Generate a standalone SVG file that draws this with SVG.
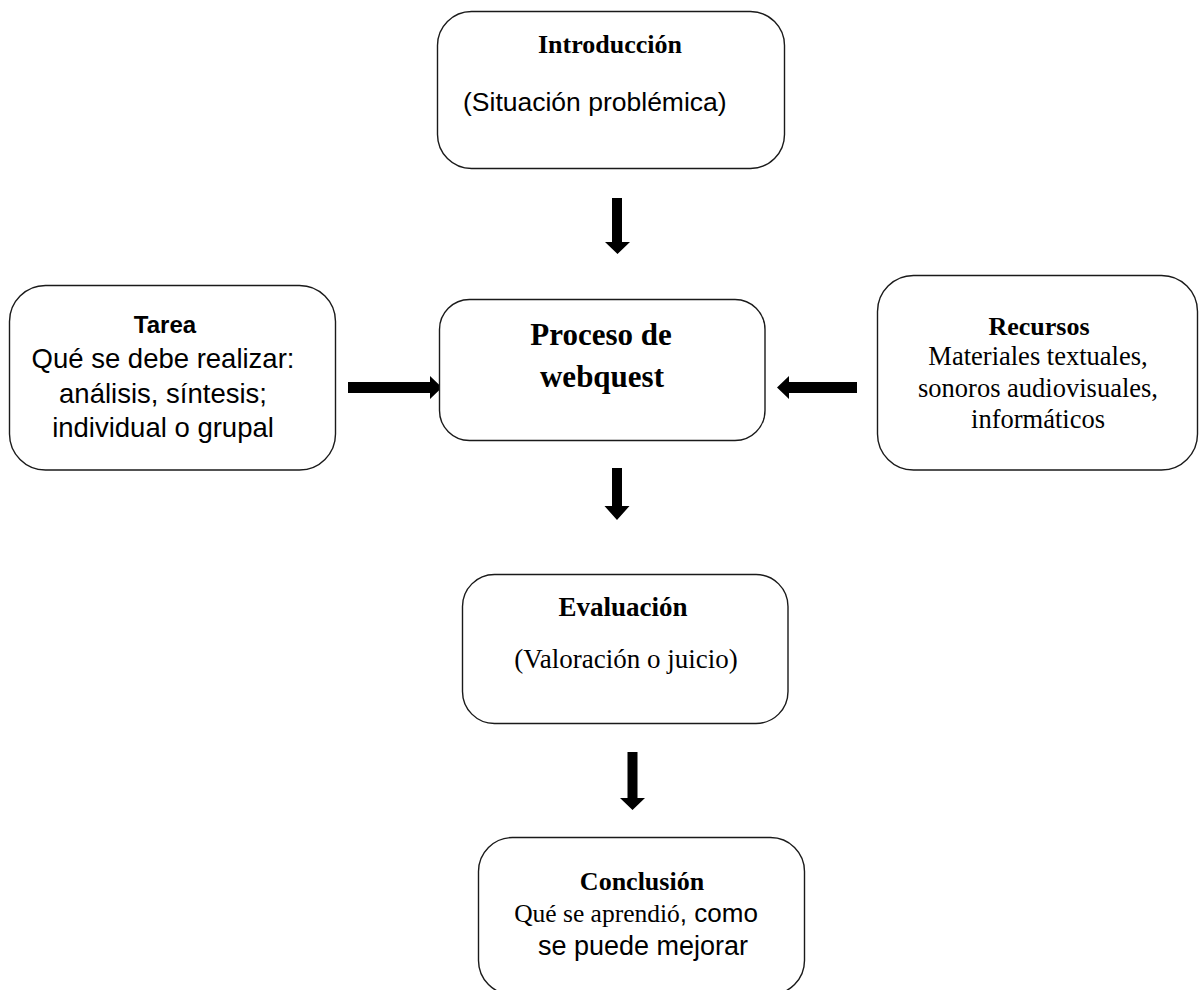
<svg xmlns="http://www.w3.org/2000/svg" width="1200" height="990" viewBox="0 0 1200 990">
<style>
.box{fill:#fff;stroke:#1a1a1a;stroke-width:1.4}
.arr{fill:#000}
.tb{font-family:"Liberation Serif","Times New Roman",serif;font-weight:bold;font-size:26px;fill:#000;text-anchor:middle}
.tr{font-family:"Liberation Serif","Times New Roman",serif;font-size:26.5px;fill:#000;text-anchor:middle}
.sr{font-family:"Liberation Sans",Arial,sans-serif;font-size:27px;fill:#000;text-anchor:middle}
.sb{font-family:"Liberation Sans",Arial,sans-serif;font-weight:bold;font-size:24px;fill:#000;text-anchor:middle}
</style>
<rect width="1200" height="990" fill="#fff"/>
<g id="connectors">
<polygon class="arr" points="612,198 622,198 622,242 630,242 617.5,254 605,242 612,242"/>
<polygon class="arr" points="612,468 622,468 622,506 629.5,506 617,520 604.5,506 612,506"/>
<polygon class="arr" points="627.5,752 637.5,752 637.5,798 645,798 632.5,810 620,798 627.5,798"/>
<polygon class="arr" points="348,382 430,382 430,376 442,387.5 430,399 430,393 348,393"/>
<polygon class="arr" points="857,382 789,382 789,376 777,387.5 789,399 789,393 857,393"/>
</g>
<g id="introduccion">
<rect class="box" x="437.5" y="11.5" width="347" height="157" rx="34"/>
<text class="tb" x="610" y="53">Introducción</text>
<text class="sr" x="463" y="111" style="text-anchor:start;font-size:26.5px">(Situación problémica)</text>
</g>
<g id="tarea">
<rect class="box" x="9.5" y="285.5" width="326" height="184.5" rx="36"/>
<text class="sb" x="165" y="333">Tarea</text>
<text class="sr" x="163" y="368" style="font-size:27.5px">Qué se debe realizar:</text>
<text class="sr" x="163" y="403" style="font-size:27.5px">análisis, síntesis;</text>
<text class="sr" x="163" y="437" style="font-size:27.5px">individual o grupal</text>
</g>
<g id="proceso">
<rect class="box" x="439.5" y="299.5" width="325.5" height="141" rx="30"/>
<text class="tb" x="601" y="345" style="font-size:31px">Proceso de</text>
<text class="tb" x="602" y="387" style="font-size:31px">webquest</text>
</g>
<g id="recursos">
<rect class="box" x="877.5" y="275.5" width="320" height="194.5" rx="36"/>
<text class="tb" x="1039" y="335">Recursos</text>
<text class="tr" x="1038" y="365">Materiales textuales,</text>
<text class="tr" x="1038" y="397">sonoros audiovisuales,</text>
<text class="tr" x="1038" y="428">informáticos</text>
</g>
<g id="evaluacion">
<rect class="box" x="462.5" y="574.5" width="325.5" height="149" rx="32"/>
<text class="tb" x="623" y="616" style="font-size:27px">Evaluación</text>
<text class="tr" x="626" y="668" style="font-size:27px">(Valoración o juicio)</text>
</g>
<g id="conclusion">
<rect class="box" x="478.5" y="837.5" width="326" height="157" rx="34"/>
<text class="tb" x="642" y="890">Conclusión</text>
<text class="tr" x="636" y="922" style="font-size:25.5px">Qué se aprendió<tspan style="font-family:'Liberation Sans',Arial,sans-serif;font-size:26px">, como</tspan></text>
<text class="sr" x="643" y="955">se puede mejorar</text>
</g>
</svg>
